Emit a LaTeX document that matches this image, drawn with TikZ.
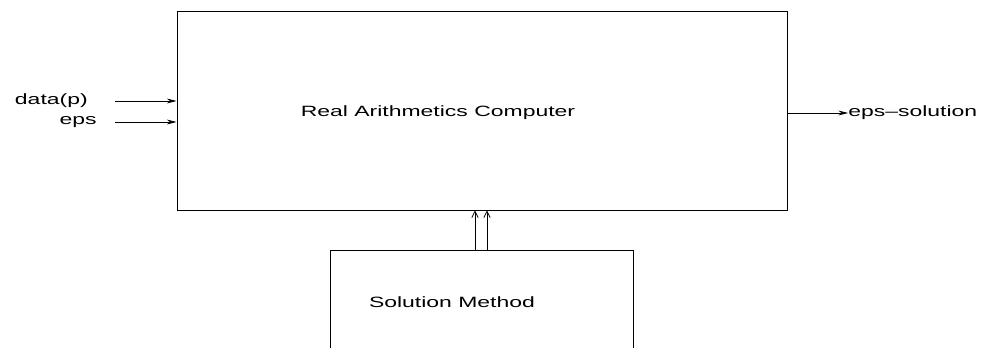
\documentclass[tikz,border=0pt]{standalone}
\usepackage{fontspec}
\setmainfont[FakeStretch=1.54]{Liberation Sans}
\usepackage{tikz}
\usetikzlibrary{arrows.meta,positioning}
\tikzset{
  block/.style={rectangle, draw, line width=0.6pt, inner sep=0pt},
  lbl/.style={inner sep=0pt, font=\fontsize{10.6}{12}\selectfont},
  flow/.style={-{Stealth[length=2.4mm,width=1.2mm]}, line width=0.5pt},
  upflow/.style={-{Straight Barb[length=1.6mm,width=1.6mm]}, line width=0.5pt},
}

\begin{document}
\begin{tikzpicture}[x=0.025cm, y=-0.025cm]
  \useasboundingbox (0,0) rectangle (981,348);
  \clip (0,0) rectangle (981,348);
  % blocks
  \node[block, minimum width=15.25cm, minimum height=4.975cm] (rac) at (482,110.5) {};
  \node[block, minimum width=7.575cm, minimum height=3cm, anchor=north west] (sm) at (330,250) {};
  \node[lbl] (racname) at (438,113) {Real Arithmetics Computer};
  \node[lbl] (smname) at (452,302) {Solution Method};
  % inputs
  \node[lbl, anchor=east] (data) at (88,101) {data(p)};
  \node[lbl, anchor=east] (eps) at (97,122) {eps};
  \coordinate (in1) at (115,101);
  \coordinate (in2) at (115,122);
  \draw[flow] (in1) -- (in1 -| rac.west);
  \draw[flow] (in2) -- (in2 -| rac.west);
  % output
  \node[lbl, anchor=west] (sol) at (848,113) {eps--solution};
  \draw[flow] (sol.west -| rac.east) -- (sol.west);
  % method to computer
  \coordinate (m1) at (475,0);
  \coordinate (m2) at (487,0);
  \draw[upflow] (sm.north -| m1) -- (rac.south -| m1);
  \draw[upflow] (sm.north -| m2) -- (rac.south -| m2);
\end{tikzpicture}
\end{document}
